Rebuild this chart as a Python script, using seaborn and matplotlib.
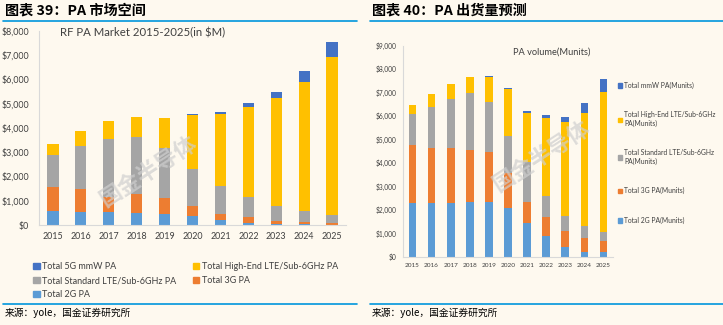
import numpy as np
import pandas as pd
import matplotlib
matplotlib.use("Agg")
import matplotlib.pyplot as plt
import seaborn as sns
from matplotlib.patches import Patch
from matplotlib.lines import Line2D

years = ["2015", "2016", "2017", "2018", "2019", "2020", "2021", "2022", "2023", "2024", "2025"]

# Left chart: RF PA market ($M)
mkt_2g = [580, 550, 550, 495, 465, 370, 220, 95, 40, 25, 15]
mkt_3g = [1000, 950, 620, 795, 660, 425, 250, 220, 125, 100, 70]
mkt_std = [1300, 1760, 2390, 2350, 2070, 1510, 1150, 850, 630, 450, 345]
mkt_he = [470, 600, 740, 810, 1235, 2225, 2965, 3705, 4450, 5340, 6505]
mkt_mmw = [0, 0, 0, 0, 0, 40, 70, 165, 235, 440, 620]

# Right chart: PA volume (Munits)
vol_2g = [2300, 2300, 2315, 2355, 2355, 2100, 1430, 895, 410, 225, 200]
vol_3g = [2470, 2355, 2315, 2215, 2130, 1460, 930, 795, 695, 585, 480]
vol_std = [1320, 1750, 2100, 2400, 2130, 1605, 1670, 910, 655, 510, 400]
vol_he = [385, 525, 625, 680, 1065, 1990, 2100, 3335, 3975, 4800, 5935]
vol_mmw = [0, 0, 0, 0, 30, 30, 85, 115, 215, 425, 570]

left_labels = ["Total 2G PA", "Total 3G PA", "Total Standard LTE/Sub-6GHz PA",
               "Total High-End LTE/Sub-6GHz PA", "Total 5G mmW PA"]
right_labels = ["Total 2G PA(Munits)", "Total 3G PA(Munits)",
                "Total Standard LTE/Sub-6GHz\nPA(Munits)",
                "Total High-End LTE/Sub-6GHz\nPA(Munits)", "Total mmW PA(Munits)"]
colors = ["#5B9BD5", "#ED7D31", "#A5A5A5", "#FFC000", "#4472C4"]

BG = "#FEF9EF"
sns.set_theme(style="white")
plt.rcParams["font.family"] = ["Lato", "DejaVu Sans"]
CJK = ["Noto Sans CJK SC", "DejaVu Sans"]

W, H = 723, 325
fig = plt.figure(figsize=(W / 100, H / 100), dpi=100, facecolor=BG)


def box(x0, y0, x1, y1):
    return [x0 / W, 1 - y1 / H, (x1 - x0) / W, (y1 - y0) / H]


def stacked(ax, series, ymax, step, fs_tick):
    cum = np.cumsum(np.array(series), axis=0)
    for i in range(len(series) - 1, -1, -1):
        df = pd.DataFrame({"year": years, "v": cum[i]})
        sns.barplot(data=df, x="year", y="v", color=colors[i], saturation=1,
                    width=0.4, linewidth=0, ax=ax)
    ax.set_facecolor(BG)
    ax.set_ylim(0, ymax)
    ax.set_xlim(-0.5, len(years) - 0.5)
    ticks = np.arange(0, ymax + 1, step)
    ax.set_yticks(ticks)
    ax.set_yticklabels([f"${t:,.0f}" for t in ticks], fontsize=fs_tick, color="#404040")
    ax.set_xlabel("")
    ax.set_ylabel("")
    for s in ["top", "right"]:
        ax.spines[s].set_visible(False)
    for s in ["left", "bottom"]:
        ax.spines[s].set_color("#D9D9D9")
        ax.spines[s].set_linewidth(0.8)
    ax.set_xticks(np.arange(-0.5, len(years), 1), minor=True)
    ax.tick_params(axis="x", which="major", length=0, pad=4, colors="#404040")
    ax.tick_params(axis="x", which="minor", length=4, color="#D9D9D9", width=0.8)
    ax.tick_params(axis="y", length=4, color="#D9D9D9", width=0.8, pad=3)
    ax.grid(False)


# Left chart
axL = fig.add_axes(box(39, 31, 346, 225))
stacked(axL, [mkt_2g, mkt_3g, mkt_std, mkt_he, mkt_mmw], 8000, 1000, 6.4)
axL.tick_params(axis="x", labelsize=6.4, pad=5)
fig.text(60 / W, 1 - 33 / H, "RF PA Market 2015-2025(in $M)",
         fontsize=8.2, color="#404040", va="center", ha="left")
hL = [Patch(color=c) for c in colors]
order = [4, 2, 0, 3, 1]
fig.legend([hL[i] for i in order], [left_labels[i] for i in order], ncol=2,
           loc="upper left", bbox_to_anchor=(27 / W, 1 - 256 / H), frameon=False,
           fontsize=6.5, handlelength=0.7, handleheight=0.7, handletextpad=0.3,
           columnspacing=1.8, labelspacing=0.55, labelcolor="#404040",
           borderpad=0.2)

# Right chart
axR = fig.add_axes(box(403, 45.7, 613, 257))
stacked(axR, [vol_2g, vol_3g, vol_std, vol_he, vol_mmw], 9000, 1000, 4.8)
axR.tick_params(axis="x", labelsize=4.6, pad=4)
axR.tick_params(axis="y", length=3, pad=2)
axR.tick_params(axis="x", which="minor", length=3)
fig.text(513 / W, 1 - 52 / H, "PA volume(Munits)", fontsize=6.7, color="#404040",
         va="center", ha="left")
hR = [Patch(color=c) for c in colors]
fig.legend(hR[::-1], right_labels[::-1], loc="upper left",
           bbox_to_anchor=(613 / W, 1 - 77 / H), frameon=False,
           fontsize=4.9, handlelength=0.6, handleheight=0.6, handletextpad=0.3,
           labelspacing=3.3, labelcolor="#404040", borderpad=0.2)

# Watermarks
fig.text(148 / W, 1 - 172 / H, "国金半导体", family=CJK, fontsize=16, fontweight="bold",
         color="#CFCFCF", alpha=0.7, rotation=33, ha="center", va="center")
fig.text(541 / W, 1 - 157 / H, "国金半导体", family=CJK, fontsize=16, fontweight="bold",
         color="#CFCFCF", alpha=0.7, rotation=33, ha="center", va="center")

# Headers, rules and sources
fig.text(5 / W, 1 - 10 / H, "图表 39：PA 市场空间", family=CJK, fontsize=10.2,
         fontweight="bold", style="italic", color="black", va="center", ha="left")
fig.text(372 / W, 1 - 10 / H, "图表 40：PA 出货量预测", family=CJK, fontsize=10.2,
         fontweight="bold", style="italic", color="black", va="center", ha="left")
for (x0, x1) in [(3, 357), (370, 723)]:
    for y in (20.5, 304):
        fig.add_artist(Line2D([x0 / W, x1 / W], [1 - y / H, 1 - y / H],
                              color="#0096DC", linewidth=1.2))
fig.text(5 / W, 1 - 313 / H, "来源：yole，国金证券研究所", family=CJK, fontsize=7,
         color="black", va="center", ha="left")
fig.text(372 / W, 1 - 313 / H, "来源：yole，国金证券研究所", family=CJK, fontsize=7,
         color="black", va="center", ha="left")

fig.savefig("out.png", dpi=100, facecolor=BG)
